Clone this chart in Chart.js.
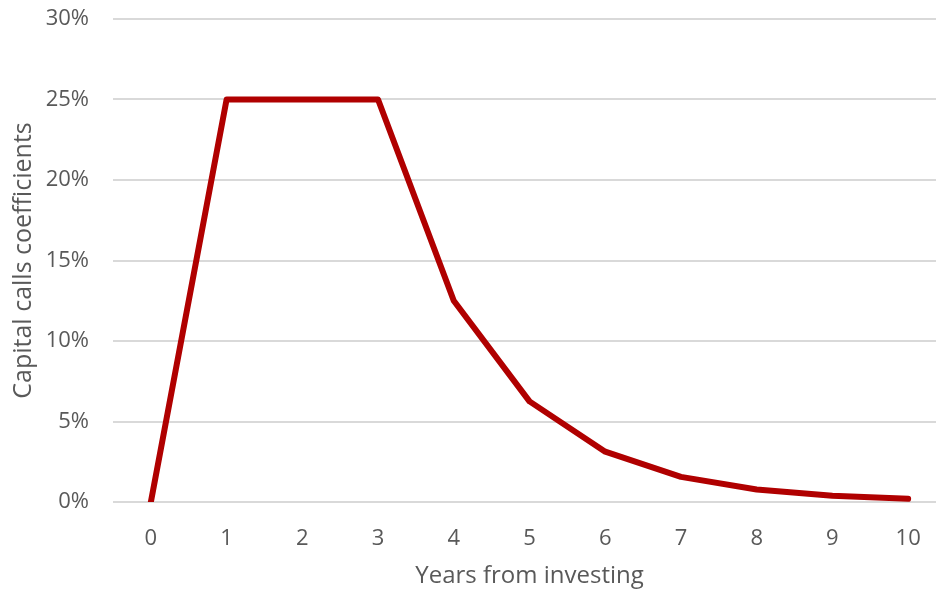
<!DOCTYPE html>
<html>
<head>
<meta charset="utf-8">
<script src="https://cdn.jsdelivr.net/npm/chart.js@4/dist/chart.umd.min.js"></script>
<style>
  html, body { margin: 0; padding: 0; background: #fff; overflow: hidden; }
  #wrap { width: 936px; height: 591px; overflow: hidden; position: relative; }
  #box { width: 946px; height: 591px; position: absolute; left: 0; top: 0; }
</style>
</head>
<body>
<div id="wrap"><div id="box"><canvas id="c"></canvas></div></div>
<script>
// Years since the commitment and the share of capital called in each year (%)
const years = ['0', '1', '2', '3', '4', '5', '6', '7', '8', '9', '10'];
const callCoefficients = [0, 25, 25, 25, 12.5, 6.25, 3.125, 1.5625, 0.78125, 0.390625, 0.1953125];
const yTicks = [0, 5, 10, 15, 20, 25, 30];

const fontFamily = '"Open Sans", sans-serif';
const textColor = '#595959';

new Chart(document.getElementById('c'), {
  type: 'line',
  data: {
    labels: years,
    datasets: [{
      label: 'Capital calls coefficients',
      data: callCoefficients,
      borderColor: '#B00000',
      borderWidth: 6,
      borderCapStyle: 'round',
      borderJoinStyle: 'round',
      pointRadius: 0,
      tension: 0,
      fill: false
    }]
  },
  options: {
    responsive: true,
    maintainAspectRatio: false,
    animation: false,
    layout: { padding: { top: 19, right: 0, bottom: 0, left: 0 } },
    plugins: { legend: { display: false }, tooltip: { enabled: false } },
    scales: {
      x: {
        type: 'category',
        offset: true,
        grid: { display: false, drawTicks: false },
        border: { display: false },
        ticks: { color: textColor, font: { family: fontFamily, size: 22 }, padding: 24, maxRotation: 0 },
        title: { display: true, text: 'Years from investing', color: textColor, font: { family: fontFamily, size: 24 }, padding: { top: 4, bottom: 0 } },
        afterFit: s => { s.height = 89; s.paddingLeft = 0; s.paddingRight = 0; }
      },
      y: {
        min: 0,
        max: 30,
        afterBuildTicks: s => { s.ticks = yTicks.map(v => ({ value: v })); },
        grid: { color: '#d9d9d9', lineWidth: 2, drawTicks: false },
        border: { display: false },
        ticks: { color: textColor, font: { family: fontFamily, size: 22 }, padding: 24, callback: v => v + '%' },
        title: { display: true, text: 'Capital calls coefficients', color: textColor, font: { family: fontFamily, size: 25 }, padding: { top: 9, bottom: 0 } },
        afterFit: s => { s.width = 113; s.paddingTop = 0; s.paddingBottom = 0; }
      }
    }
  }
});
</script>
</body>
</html>
